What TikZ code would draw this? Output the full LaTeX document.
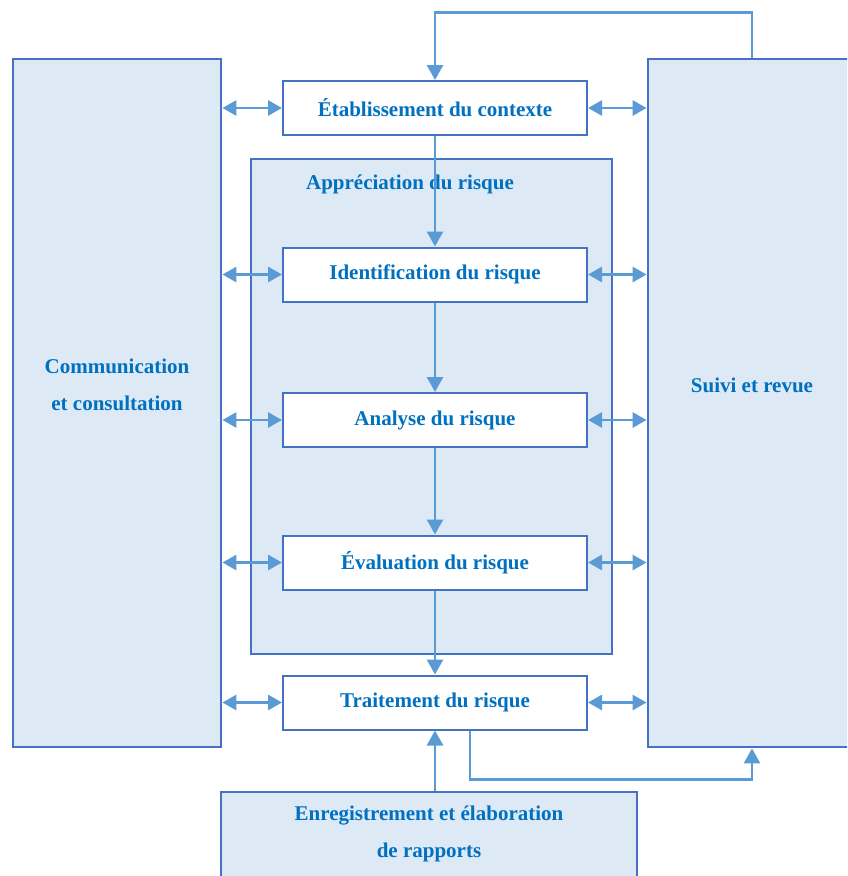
\documentclass[tikz,border=0pt]{standalone}
\usepackage{fontspec}
\setmainfont{Liberation Serif}
\usetikzlibrary{arrows.meta}
\definecolor{boxline}{RGB}{68,114,196}
\definecolor{boxfill}{RGB}{222,233,246}
\definecolor{arrowblue}{RGB}{91,155,213}
\definecolor{textblue}{RGB}{0,112,192}

\begin{document}
\begin{tikzpicture}[x=1pt, y=-1pt,
    font=\fontsize{21}{37}\selectfont\bfseries,
    panel/.style={draw=boxline, line width=2.8pt, fill=boxfill, inner sep=0pt},
    stepbox/.style={draw=boxline, line width=2pt, fill=white, inner sep=0pt,
      minimum width=304pt, minimum height=54pt, text=textblue},
    label/.style={text=textblue, align=center, inner sep=0pt},
    flow/.style={draw=arrowblue, line width=2.8pt, -{Triangle[length=15pt,width=16pt]}},
    link/.style={draw=arrowblue, line width=2.8pt,
      {Triangle[length=14pt,width=15pt]}-{Triangle[length=14pt,width=15pt]}}]
  \useasboundingbox (0,0) rectangle (847,876);
  \clip (0,0) rectangle (847,876);

  % side panels and the assessment frame
  \node[panel, minimum width=208pt, minimum height=688pt] (comm) at (117,403) {};
  \node[panel, minimum width=208pt, minimum height=688pt] (suivi) at (752,403) {};
  \node[panel, minimum width=361pt, minimum height=495pt] (appr) at (431.5,406.5) {};
  \node[panel, minimum width=416pt, minimum height=98pt] (enreg) at (429,841) {};
  \node[label] (commtext) at (117,385) {Communication\\et consultation};
  \node[label] (suivitext) at (752,385) {Suivi et revue};
  \node[label] (apprtext) at (410,184) {Appréciation du risque};
  \node[label] (enregtext) at (429,834) {Enregistrement et élaboration\\de rapports};

  % process steps
  \node[stepbox] (etab) at (435,108) {Établissement du contexte};
  \node[stepbox] (ident) at (435,274.5) {Identification du risque};
  \node[stepbox] (analyse) at (435,420) {Analyse du risque};
  \node[stepbox] (eval) at (435,562.5) {Évaluation du risque};
  \node[stepbox] (trait) at (435,702.5) {Traitement du risque};

  \draw[flow] (etab.south) -- (ident.north);
  \draw[flow] (ident.south) -- (analyse.north);
  \draw[flow] (analyse.south) -- (eval.north);
  \draw[flow] (eval.south) -- (trait.north);
  \draw[flow] (trait.south |- enreg.north) -- (trait.south);

  % loops back from monitoring
  \draw[flow] (suivi.north) -- ++(0,-45) -| (etab.north);
  \draw[flow] ([xshift=35pt]trait.south) -- ++(0,49) -| (suivi.south);

  % exchanges with both side panels
  \foreach \n in {etab,ident,analyse,eval,trait} {
    \draw[link] (comm.east |- \n.west) -- (\n.west);
    \draw[link] (\n.east) -- (\n.east -| suivi.west);
  }
\end{tikzpicture}
\end{document}
